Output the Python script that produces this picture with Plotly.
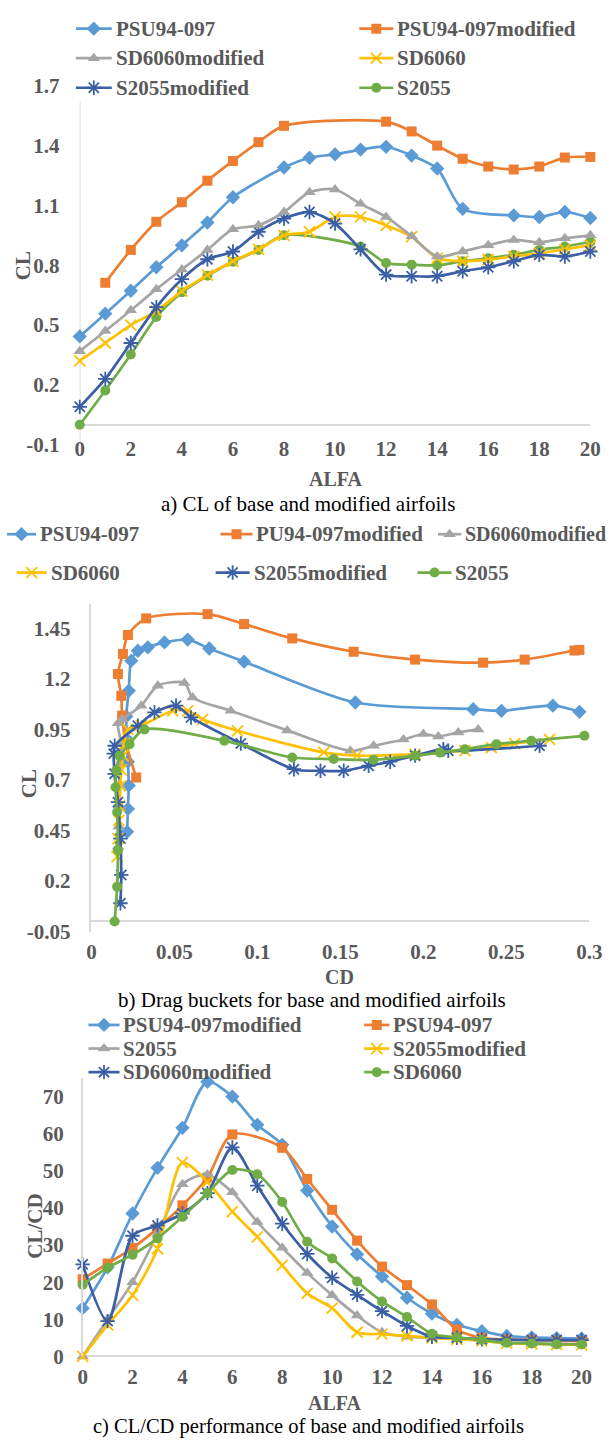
import plotly.graph_objects as go

W, H = 615, 1450

# ---------------- (a) CL against ALFA, (b) CL against CD ----------------
alfa_psu = [0, 1, 2, 3, 4, 5, 6, 8, 9, 10, 11, 12, 13, 14, 15, 17, 18, 19, 20]
cl_psu = [0.443, 0.557, 0.672, 0.79, 0.90, 1.014, 1.141, 1.29, 1.339, 1.356, 1.38,
          1.394, 1.35, 1.285, 1.083, 1.05, 1.042, 1.067, 1.037]
cd_psu = [0.0215, 0.022, 0.0225, 0.022, 0.0215, 0.021, 0.0225, 0.024, 0.028, 0.034,
          0.044, 0.058, 0.071, 0.092, 0.159, 0.230, 0.247, 0.278, 0.294]

alfa_psu_mod = [1, 2, 3, 4, 5, 6, 7, 8, 12, 13, 14, 15, 16, 17, 18, 19, 20]
cl_psu_mod = [0.712, 0.877, 1.018, 1.116, 1.224, 1.323, 1.417, 1.499, 1.52, 1.471,
              1.40, 1.334, 1.295, 1.28, 1.295, 1.34, 1.343]
cd_psu_mod = [0.027, 0.021, 0.0185, 0.018, 0.016, 0.019, 0.022, 0.033, 0.070, 0.092,
              0.121, 0.158, 0.195, 0.236, 0.261, 0.291, 0.294]

alfa_sd_mod = list(range(0, 21))
cl_sd_mod = [0.369, 0.47, 0.574, 0.68, 0.779, 0.877, 0.98, 1.0, 1.067, 1.166, 1.18,
             1.108, 1.042, 0.945, 0.844, 0.869, 0.90, 0.927, 0.915, 0.935, 0.95]
cd_sd_mod = [0.016, 0.0165, 0.017, 0.017, 0.0175, 0.018, 0.016, 0.0185, 0.030, 0.040,
             0.056, 0.061, 0.084, 0.118, 0.156, 0.170, 0.188, 0.200, 0.209, 0.221, 0.233]

alfa_sd = list(range(0, 21))
cl_sd = [0.32, 0.41, 0.50, 0.57, 0.67, 0.75, 0.82, 0.88, 0.95, 0.968, 1.042, 1.042,
         1.0, 0.943, 0.836, 0.82, 0.828, 0.845, 0.86, 0.88, 0.90]
cd_sd = [0.0155, 0.016, 0.0165, 0.017, 0.0175, 0.018, 0.019, 0.020, 0.022, 0.030,
         0.049, 0.058, 0.067, 0.088, 0.140, 0.160, 0.195, 0.225, 0.241, 0.255, 0.276]

alfa_s_mod = list(range(0, 21))
cl_s_mod = [0.09, 0.23, 0.41, 0.59, 0.73, 0.83, 0.869, 0.968, 1.034, 1.067, 1.009,
            0.88, 0.753, 0.745, 0.745, 0.77, 0.79, 0.82, 0.852, 0.844, 0.869]
cd_s_mod = [0.0175, 0.018, 0.0175, 0.016, 0.014, 0.0135, 0.014, 0.028, 0.038, 0.051,
            0.060, 0.090, 0.122, 0.138, 0.152, 0.167, 0.180, 0.195, 0.212, 0.215, 0.270]

alfa_s = [0, 1, 2, 3, 4, 5, 6, 7, 8, 11, 12, 13, 14, 15, 16, 17, 18, 19, 20]
cl_s = [0.0, 0.172, 0.352, 0.54, 0.664, 0.747, 0.818, 0.877, 0.95, 0.894, 0.811,
        0.803, 0.80, 0.82, 0.835, 0.852, 0.877, 0.894, 0.918]
cd_s = [0.014, 0.0155, 0.016, 0.0155, 0.0145, 0.015, 0.017, 0.023, 0.032, 0.080,
        0.121, 0.146, 0.170, 0.195, 0.210, 0.225, 0.244, 0.265, 0.297]

# ---------------- (c) CL/CD against ALFA ----------------
alfa_c = list(range(0, 21))
ld_psu_mod = [13, 24, 38.5, 50.8, 61.6, 74, 70, 62.4, 57, 44.7, 35, 27.5, 21.5, 15.8,
              11.5, 8.5, 6.8, 5.5, 5.1, 4.9, 4.8]
alfa_c_psu = [0, 1, 2, 3, 4, 5, 6, 8, 9, 10, 11, 12, 13, 14, 15, 16, 17, 18, 19, 20]
ld_psu = [20.8, 25, 29.2, 34.5, 40.7, 48.2, 59.8, 56.2, 47.8, 39.5, 31.2, 24.2, 19.2,
          14, 7.2, 5, 4.5, 4.4, 4.2, 4.1]
ld_s = [0, 10, 20, 33, 46.4, 49, 44.2, 36.2, 29.3, 22.5, 16.5, 11, 6.5, 5.3, 5, 4.7,
        4.2, 3.6, 3.4, 3.3, 3.2]
ld_s_mod = [0, 8.5, 16.5, 29, 52.2, 47, 39, 32.2, 24.5, 17, 13, 6.5, 6, 5.5, 5, 4.6,
            4.2, 3.6, 3.4, 3.2, 3.1]
ld_sd_mod = [24.8, 9.5, 32.5, 35.3, 38.5, 44, 56.3, 46, 35.8, 27.6, 21.2, 16.6, 12.2,
             8.2, 5.3, 5, 4.6, 4.5, 4.4, 4.4, 4.4]
ld_sd = [19.3, 23.9, 27.4, 31.8, 37.6, 44, 50.2, 49.1, 41.6, 30.9, 26.4, 20.2, 14.8,
         10.6, 6.1, 5.1, 4.4, 3.7, 3.5, 3.3, 3.2]

# tick labels
a_x_ticks = list(range(0, 21, 2))
a_y_ticks = [-0.1, 0.2, 0.5, 0.8, 1.1, 1.4, 1.7]
b_x_ticks = [0, 0.05, 0.1, 0.15, 0.2, 0.25, 0.3]
b_y_ticks = [-0.05, 0.2, 0.45, 0.7, 0.95, 1.2, 1.45]
c_y_ticks = list(range(0, 80, 10))

# ---------------- styles ----------------
BLUE, ORANGE, GRAY, GOLD, NAVY, GREEN = "#5B9BD5", "#ED7D31", "#A5A5A5", "#FFC000", "#3A5FA5", "#70AD47"
STYLE = {
    "diamond": dict(color=BLUE, symbol="diamond", size=11),
    "square": dict(color=ORANGE, symbol="square", size=10),
    "triangle": dict(color=GRAY, symbol="triangle-up", size=11),
    "x": dict(color=GOLD, symbol="x-thin-open", size=11),
    "star": dict(color=NAVY, symbol="asterisk-open", size=12),
    "circle": dict(color=GREEN, symbol="circle", size=10),
}
TXT = "#595959"
SERIF = "Liberation Serif"
LW = 2.7
AXLINE = "#D9D9D9"


def marker(kind):
    s = STYLE[kind]
    m = dict(color=s["color"], symbol=s["symbol"], size=s["size"])
    if s["symbol"].endswith("open"):
        m["line"] = dict(color=s["color"], width=1.8)
    else:
        m["line"] = dict(width=0)
    return m


fig = go.Figure()


def add_series(x, y, kind, xa, ya):
    fig.add_trace(go.Scatter(
        x=x, y=y, mode="lines+markers", xaxis=xa, yaxis=ya, showlegend=False,
        line=dict(color=STYLE[kind]["color"], width=LW, shape="spline", smoothing=0.8),
        marker=marker(kind), cliponaxis=False, hoverinfo="skip"))


# panel a
add_series(alfa_s, cl_s, "circle", "x", "y")
add_series(alfa_sd, cl_sd, "x", "x", "y")
add_series(alfa_s_mod, cl_s_mod, "star", "x", "y")
add_series(alfa_sd_mod, cl_sd_mod, "triangle", "x", "y")
add_series(alfa_psu, cl_psu, "diamond", "x", "y")
add_series(alfa_psu_mod, cl_psu_mod, "square", "x", "y")

# panel b (drag buckets)
add_series(cd_psu, cl_psu, "diamond", "x2", "y2")
add_series(cd_psu_mod, cl_psu_mod, "square", "x2", "y2")
add_series(cd_sd_mod, cl_sd_mod, "triangle", "x2", "y2")
add_series(cd_sd, cl_sd, "x", "x2", "y2")
add_series(cd_s_mod, cl_s_mod, "star", "x2", "y2")
add_series(cd_s, cl_s, "circle", "x2", "y2")

# panel c
add_series(alfa_c, ld_psu_mod, "diamond", "x3", "y3")
add_series(alfa_c_psu, ld_psu, "square", "x3", "y3")
add_series(alfa_c, ld_s, "triangle", "x3", "y3")
add_series(alfa_c, ld_s_mod, "x", "x3", "y3")
add_series(alfa_c, ld_sd_mod, "star", "x3", "y3")
add_series(alfa_c, ld_sd, "circle", "x3", "y3")

# ---------------- legends drawn in a pixel-space overlay ----------------
annotations = []


def legend_item(name, kind, x0, x1, y, size=21):
    c = STYLE[kind]["color"]
    fig.add_trace(go.Scatter(x=[x0, x1], y=[y, y], mode="lines", xaxis="x4", yaxis="y4",
                             line=dict(color=c, width=LW), showlegend=False,
                             hoverinfo="skip", cliponaxis=False))
    fig.add_trace(go.Scatter(x=[(x0 + x1) / 2], y=[y], mode="markers", xaxis="x4",
                             yaxis="y4", marker=marker(kind), showlegend=False,
                             hoverinfo="skip", cliponaxis=False))
    annotations.append(dict(x=x1 + 2, y=y, xref="x4", yref="y4", text=name,
                            showarrow=False, xanchor="left", yanchor="middle",
                            font=dict(family=SERIF, size=size, color=TXT, weight="bold")))


legend_a = [("PSU94-097", "diamond", 73, 110, 17, 21), ("PSU94-097modified", "square", 365, 400, 17, 21),
            ("SD6060modified", "triangle", 73, 110, 47, 21), ("SD6060", "x", 365, 400, 47, 21),
            ("S2055modified", "star", 73, 110, 77, 21), ("S2055", "circle", 365, 400, 77, 21)]
legend_b = [("PSU94-097", "diamond", 2, 32, 531, 21), ("PU94-097modified", "square", 222, 255, 531, 21),
            ("SD6060modified", "triangle", 446, 470, 531, 20),
            ("SD6060", "x", 12, 43, 570, 21), ("S2055modified", "star", 217, 252, 570, 21),
            ("S2055", "circle", 425, 460, 570, 21)]
legend_c = [("PSU94-097modified", "diamond", 86, 118, 1030, 21), ("PSU94-097", "square", 370, 396, 1030, 21),
            ("S2055", "triangle", 86, 118, 1054, 21), ("S2055modified", "x", 370, 396, 1054, 21),
            ("SD6060modified", "star", 86, 118, 1078, 21), ("SD6060", "circle", 370, 396, 1078, 21)]
for item in legend_a + legend_b + legend_c:
    legend_item(*item)


def label(text, x, y, size=20, bold=True, color=TXT, angle=0):
    annotations.append(dict(x=x, y=y, xref="x4", yref="y4", text=text, showarrow=False,
                            xanchor="center", yanchor="middle", textangle=angle,
                            font=dict(family=SERIF, size=size, color=color,
                                      weight="bold" if bold else "normal")))


label("ALFA", 341, 475)
label("CL", 18, 258, size=21, angle=-90)
label("a) CL of base and modified airfoils", 312, 500, size=21, bold=False, color="#000000")
label("CD", 345, 981)
label("CL", 25, 785, size=21, angle=-90)
label("b) Drag buckets for base and modified airfoils", 316, 1005, size=21, bold=False, color="#000000")
label("ALFA", 340, 1414)
label("CL/CD", 30, 1235, size=21, angle=-90)
label("c) CL/CD performance of base and modified airfoils", 313, 1438, size=20.5, bold=False,
      color="#000000")


def px_dom_x(a, b):
    return [a / W, b / W]


def px_dom_y(top, bottom):
    return [1 - bottom / H, 1 - top / H]


tickfont = dict(family=SERIF, size=21, color=TXT, weight="bold")


def fmt(v):
    return "%g" % v


common_x = dict(showgrid=False, zeroline=False, showline=False, tickfont=tickfont,
                tickmode="array", ticks="outside", tickcolor="rgba(0,0,0,0)", ticklen=1,
                fixedrange=True)
common_y = dict(showgrid=False, zeroline=True, zerolinecolor=AXLINE, zerolinewidth=1.5,
                showline=True, linecolor=AXLINE, linewidth=1.5, tickfont=tickfont,
                tickmode="array", ticks="outside", tickcolor="rgba(0,0,0,0)", ticklen=15,
                fixedrange=True)

# vertical axis line of panel a stops just under its legend block
fig.add_shape(type="line", xref="x", yref="y", x0=0, x1=0, y0=-0.1, y1=1.62,
              line=dict(color=AXLINE, width=1.5), layer="below")

fig.update_layout(
    width=W, height=H, margin=dict(l=0, r=0, t=0, b=0),
    paper_bgcolor="white", plot_bgcolor="rgba(0,0,0,0)", showlegend=False,
    # ALFA labels of panel a sit a little above the plot's lower edge
    xaxis=dict(common_x, domain=px_dom_x(77, 603), range=[0, 20], anchor="free",
               position=1 - 429 / H, ticks="",
               tickvals=a_x_ticks, ticktext=[fmt(v) for v in a_x_ticks]),
    yaxis=dict(common_y, domain=px_dom_y(75, 440), range=[-0.1, 1.7], anchor="x",
               showline=False, tickvals=a_y_ticks, ticktext=[fmt(v) for v in a_y_ticks]),
    xaxis2=dict(common_x, domain=px_dom_x(89, 602), range=[0, 0.3], anchor="y2",
                tickvals=b_x_ticks, ticktext=[fmt(v) for v in b_x_ticks]),
    yaxis2=dict(common_y, domain=px_dom_y(602, 935), range=[-0.05, 1.57], anchor="x2",
                tickvals=b_y_ticks, ticktext=[fmt(v) for v in b_y_ticks]),
    xaxis3=dict(common_x, domain=px_dom_x(80, 594), range=[0, 20], anchor="y3",
                tickvals=a_x_ticks, ticktext=[fmt(v) for v in a_x_ticks]),
    yaxis3=dict(common_y, domain=px_dom_y(1084, 1367), range=[0, 75], anchor="x3",
                ticklen=13, tickvals=c_y_ticks, ticktext=[fmt(v) for v in c_y_ticks]),
    xaxis4=dict(domain=[0, 1], range=[0, W], visible=False, fixedrange=True, anchor="y4"),
    yaxis4=dict(domain=[0, 1], range=[H, 0], visible=False, fixedrange=True, anchor="x4"),
    annotations=annotations,
)

fig.write_html("out.html")
